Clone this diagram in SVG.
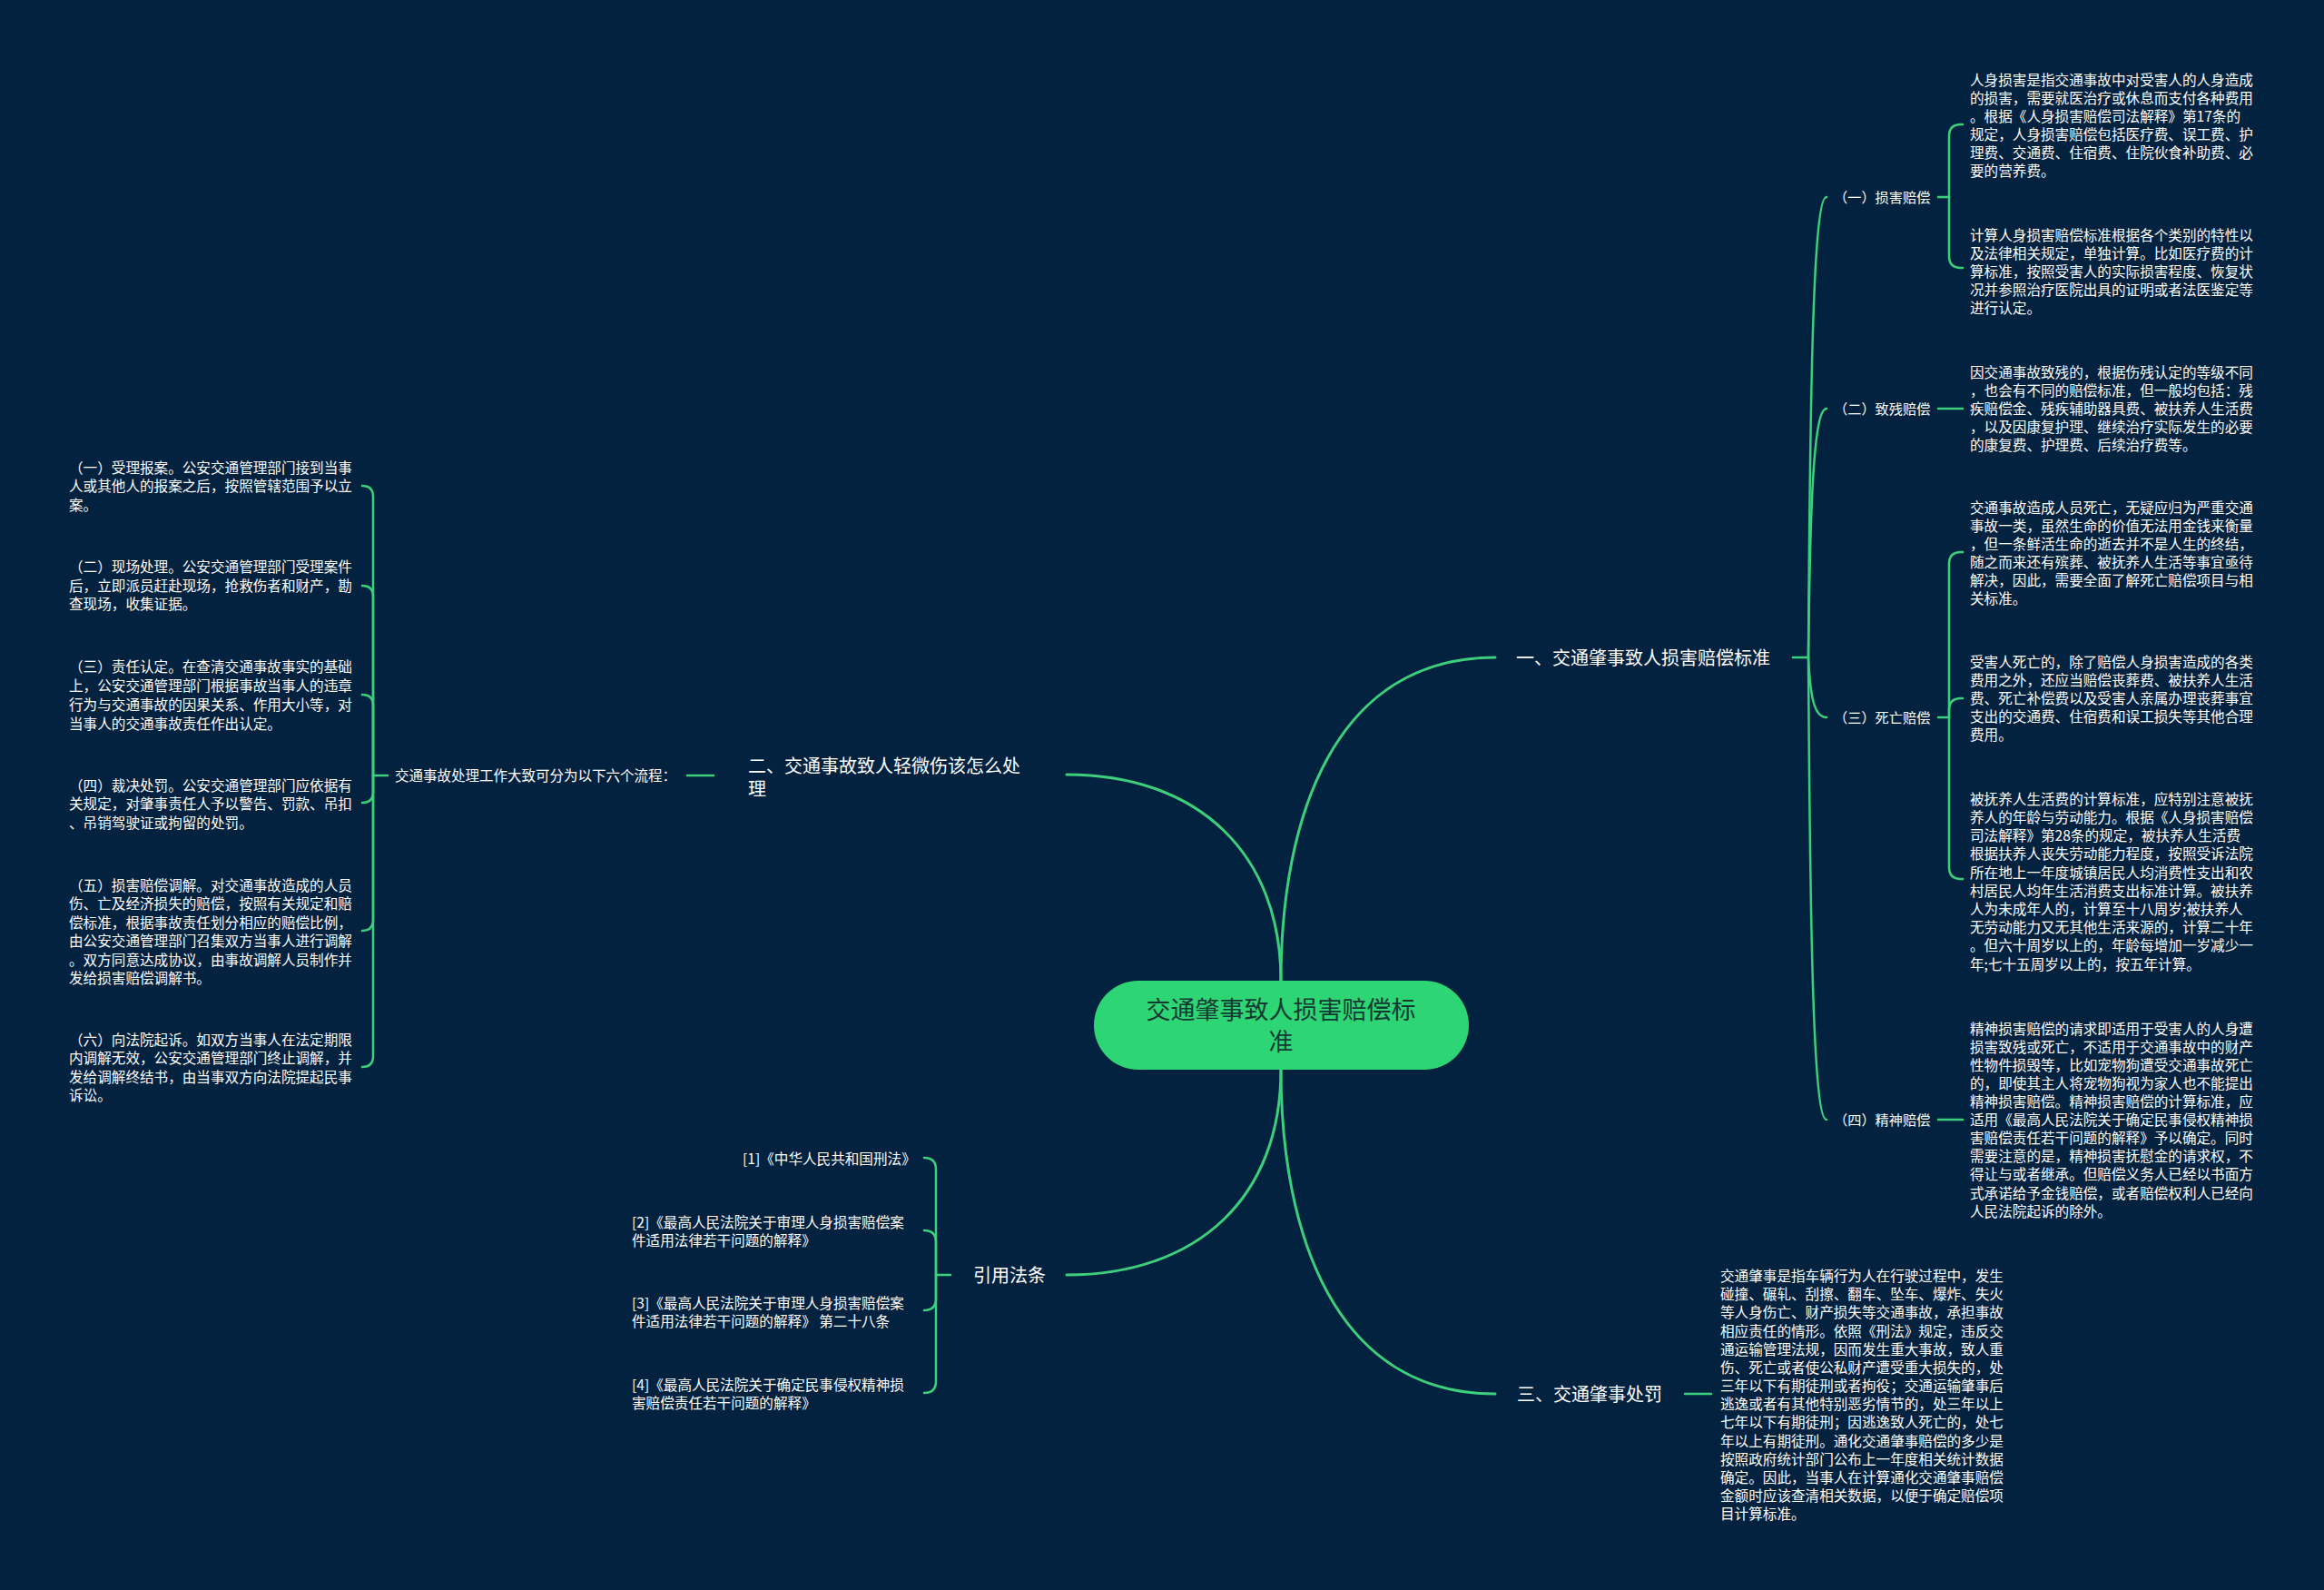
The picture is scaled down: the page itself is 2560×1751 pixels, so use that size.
<svg xmlns="http://www.w3.org/2000/svg" width="2560" height="1751" viewBox="0 0 2560 1751">
<style>
text{font-family:"Noto Sans CJK SC","Noto Sans",sans-serif;fill:#ffffff}
.d{font-size:15.6px}
.s{font-size:15.2px}
.b{font-size:20px}
.r{font-size:27px;fill:#123a33;text-anchor:middle}
.c path{fill:none;stroke:#3ccf7c;stroke-width:2.5;stroke-linecap:round}
.c .m{stroke-width:3}
</style>
<rect x="0" y="0" width="2560" height="1751" fill="#03223f"/>
<g class="c" id="connectors">
<path class="m" d="M1411,1080 C1411,900 1470,724 1647,724"/>
<path class="m" d="M1411,1080 C1411,940 1320,853 1175,853"/>
<path class="m" d="M1411,1178 C1411,1358 1470,1535 1647,1535"/>
<path class="m" d="M1411,1178 C1411,1318 1320,1404 1175,1404"/>
<path d="M1975,724 L1992,724"/>
<path d="M1992,724 C1994,400 1998,217 2012,217"/>
<path d="M1992,724 C1994,549 1998,450 2012,450"/>
<path d="M1992,724 C1994,766 1998,790 2012,790"/>
<path d="M1992,724 C1994,1050 1998,1233 2012,1233"/>
<path d="M2135,217 L2147,217"/>
<path d="M2147,217 L2147,150 Q2147,137 2160,137 L2162,137"/>
<path d="M2147,217 L2147,282 Q2147,295 2160,295 L2162,295"/>
<path d="M2135,450 L2162,450"/>
<path d="M2135,790 L2147,790"/>
<path d="M2147,790 L2147,621 Q2147,608 2160,608 L2162,608"/>
<path d="M2147,790 L2147,782 Q2147,769 2160,769 L2162,769"/>
<path d="M2147,790 L2147,955 Q2147,968 2160,968 L2162,968"/>
<path d="M2135,1233 L2162,1233"/>
<path d="M1856,1535 L1885,1535"/>
<path d="M757,854 L786,854"/>
<path d="M427,854 L411,854"/>
<path d="M411,854 L411,547 Q411,535 399,535"/>
<path d="M411,854 L411,657 Q411,645 399,645"/>
<path d="M411,854 L411,777 Q411,765 399,765"/>
<path d="M411,854 L411,872 Q411,884 399,884"/>
<path d="M411,854 L411,1013 Q411,1025 399,1025"/>
<path d="M411,854 L411,1163 Q411,1175 399,1175"/>
<path d="M1047,1404 L1031,1404"/>
<path d="M1031,1404 L1031,1288 Q1031,1275 1018,1275"/>
<path d="M1031,1404 L1031,1368 Q1031,1355 1018,1355"/>
<path d="M1031,1404 L1031,1430 Q1031,1443 1018,1443"/>
<path d="M1031,1404 L1031,1521 Q1031,1534 1018,1534"/>
</g>
<g id="root">
<rect x="1205" y="1080" width="413" height="98" rx="49" ry="49" fill="#2ed574"/>
<text class="r"><tspan x="1411" y="1122">交通肇事致人损害赔偿标</tspan><tspan x="1411" y="1157">准</tspan></text>
</g>
<g id="branch1"><text class="b" x="1670" y="731.6">一、交通肇事致人损害赔偿标准</text></g>
<g id="branch2"><text class="b"><tspan x="824" y="850.6">二、交通事故致人轻微伤该怎么处</tspan><tspan x="824" y="875.6">理</tspan></text></g>
<g id="branch3"><text class="b" x="1671" y="1542.6">三、交通肇事处罚</text></g>
<g id="branch4"><text class="b" x="1072" y="1411.6">引用法条</text></g>
<g id="sub1"><text class="s" x="2020" y="222.8">（一）损害赔偿</text></g>
<g id="sub2"><text class="s" x="2020" y="455.8">（二）致残赔偿</text></g>
<g id="sub3"><text class="s" x="2020" y="795.8">（三）死亡赔偿</text></g>
<g id="sub4"><text class="s" x="2020" y="1238.8">（四）精神赔偿</text></g>
<g id="desc1"><text class="d"><tspan x="2170" y="94">人身损害是指交通事故中对受害人的人身造成</tspan><tspan x="2170" y="114">的损害，需要就医治疗或休息而支付各种费用</tspan><tspan x="2170" y="134">。根据《人身损害赔偿司法解释》第17条的</tspan><tspan x="2170" y="154">规定，人身损害赔偿包括医疗费、误工费、护</tspan><tspan x="2170" y="174">理费、交通费、住宿费、住院伙食补助费、必</tspan><tspan x="2170" y="194">要的营养费。</tspan></text></g>
<g id="desc2"><text class="d"><tspan x="2170" y="265">计算人身损害赔偿标准根据各个类别的特性以</tspan><tspan x="2170" y="285">及法律相关规定，单独计算。比如医疗费的计</tspan><tspan x="2170" y="305">算标准，按照受害人的实际损害程度、恢复状</tspan><tspan x="2170" y="325">况并参照治疗医院出具的证明或者法医鉴定等</tspan><tspan x="2170" y="345">进行认定。</tspan></text></g>
<g id="desc3"><text class="d"><tspan x="2170" y="416">因交通事故致残的，根据伤残认定的等级不同</tspan><tspan x="2170" y="436">，也会有不同的赔偿标准，但一般均包括：残</tspan><tspan x="2170" y="456">疾赔偿金、残疾辅助器具费、被扶养人生活费</tspan><tspan x="2170" y="476">，以及因康复护理、继续治疗实际发生的必要</tspan><tspan x="2170" y="496">的康复费、护理费、后续治疗费等。</tspan></text></g>
<g id="desc4"><text class="d"><tspan x="2170" y="565">交通事故造成人员死亡，无疑应归为严重交通</tspan><tspan x="2170" y="585">事故一类，虽然生命的价值无法用金钱来衡量</tspan><tspan x="2170" y="605">，但一条鲜活生命的逝去并不是人生的终结，</tspan><tspan x="2170" y="625">随之而来还有殡葬、被抚养人生活等事宜亟待</tspan><tspan x="2170" y="645">解决，因此，需要全面了解死亡赔偿项目与相</tspan><tspan x="2170" y="665">关标准。</tspan></text></g>
<g id="desc5"><text class="d"><tspan x="2170" y="735">受害人死亡的，除了赔偿人身损害造成的各类</tspan><tspan x="2170" y="755">费用之外，还应当赔偿丧葬费、被扶养人生活</tspan><tspan x="2170" y="775">费、死亡补偿费以及受害人亲属办理丧葬事宜</tspan><tspan x="2170" y="795">支出的交通费、住宿费和误工损失等其他合理</tspan><tspan x="2170" y="815">费用。</tspan></text></g>
<g id="desc6"><text class="d"><tspan x="2170" y="886">被抚养人生活费的计算标准，应特别注意被抚</tspan><tspan x="2170" y="906">养人的年龄与劳动能力。根据《人身损害赔偿</tspan><tspan x="2170" y="926">司法解释》第28条的规定，被扶养人生活费</tspan><tspan x="2170" y="946">根据扶养人丧失劳动能力程度，按照受诉法院</tspan><tspan x="2170" y="967">所在地上一年度城镇居民人均消费性支出和农</tspan><tspan x="2170" y="987">村居民人均年生活消费支出标准计算。被扶养</tspan><tspan x="2170" y="1007">人为未成年人的，计算至十八周岁;被扶养人</tspan><tspan x="2170" y="1027">无劳动能力又无其他生活来源的，计算二十年</tspan><tspan x="2170" y="1047">。但六十周岁以上的，年龄每增加一岁减少一</tspan><tspan x="2170" y="1068">年;七十五周岁以上的，按五年计算。</tspan></text></g>
<g id="desc7"><text class="d"><tspan x="2170" y="1139">精神损害赔偿的请求即适用于受害人的人身遭</tspan><tspan x="2170" y="1159">损害致残或死亡，不适用于交通事故中的财产</tspan><tspan x="2170" y="1179">性物件损毁等，比如宠物狗遭受交通事故死亡</tspan><tspan x="2170" y="1199">的，即使其主人将宠物狗视为家人也不能提出</tspan><tspan x="2170" y="1219">精神损害赔偿。精神损害赔偿的计算标准，应</tspan><tspan x="2170" y="1239">适用《最高人民法院关于确定民事侵权精神损</tspan><tspan x="2170" y="1259">害赔偿责任若干问题的解释》予以确定。同时</tspan><tspan x="2170" y="1279">需要注意的是，精神损害抚慰金的请求权，不</tspan><tspan x="2170" y="1299">得让与或者继承。但赔偿义务人已经以书面方</tspan><tspan x="2170" y="1320">式承诺给予金钱赔偿，或者赔偿权利人已经向</tspan><tspan x="2170" y="1340">人民法院起诉的除外。</tspan></text></g>
<g id="desc8"><text class="d"><tspan x="1895" y="1411">交通肇事是指车辆行为人在行驶过程中，发生</tspan><tspan x="1895" y="1431">碰撞、碾轧、刮擦、翻车、坠车、爆炸、失火</tspan><tspan x="1895" y="1451">等人身伤亡、财产损失等交通事故，承担事故</tspan><tspan x="1895" y="1472">相应责任的情形。依照《刑法》规定，违反交</tspan><tspan x="1895" y="1492">通运输管理法规，因而发生重大事故，致人重</tspan><tspan x="1895" y="1512">伤、死亡或者使公私财产遭受重大损失的，处</tspan><tspan x="1895" y="1532">三年以下有期徒刑或者拘役；交通运输肇事后</tspan><tspan x="1895" y="1552">逃逸或者有其他特别恶劣情节的，处三年以上</tspan><tspan x="1895" y="1572">七年以下有期徒刑；因逃逸致人死亡的，处七</tspan><tspan x="1895" y="1593">年以上有期徒刑。通化交通肇事赔偿的多少是</tspan><tspan x="1895" y="1613">按照政府统计部门公布上一年度相关统计数据</tspan><tspan x="1895" y="1633">确定。因此，当事人在计算通化交通肇事赔偿</tspan><tspan x="1895" y="1653">金额时应该查清相关数据，以便于确定赔偿项</tspan><tspan x="1895" y="1673">目计算标准。</tspan></text></g>
<g id="flow"><text x="435" y="860" style="font-size:15.5px">交通事故处理工作大致可分为以下六个流程：</text></g>
<g id="step1"><text class="d"><tspan x="76" y="521">（一）受理报案。公安交通管理部门接到当事</tspan><tspan x="76" y="541">人或其他人的报案之后，按照管辖范围予以立</tspan><tspan x="76" y="562">案。</tspan></text></g>
<g id="step2"><text class="d"><tspan x="76" y="630">（二）现场处理。公安交通管理部门受理案件</tspan><tspan x="76" y="651">后，立即派员赶赴现场，抢救伤者和财产，勘</tspan><tspan x="76" y="671">查现场，收集证据。</tspan></text></g>
<g id="step3"><text class="d"><tspan x="76" y="740">（三）责任认定。在查清交通事故事实的基础</tspan><tspan x="76" y="761">上，公安交通管理部门根据事故当事人的违章</tspan><tspan x="76" y="782">行为与交通事故的因果关系、作用大小等，对</tspan><tspan x="76" y="803">当事人的交通事故责任作出认定。</tspan></text></g>
<g id="step4"><text class="d"><tspan x="76" y="871">（四）裁决处罚。公安交通管理部门应依据有</tspan><tspan x="76" y="891">关规定，对肇事责任人予以警告、罚款、吊扣</tspan><tspan x="76" y="912">、吊销驾驶证或拘留的处罚。</tspan></text></g>
<g id="step5"><text class="d"><tspan x="76" y="981">（五）损害赔偿调解。对交通事故造成的人员</tspan><tspan x="76" y="1001">伤、亡及经济损失的赔偿，按照有关规定和赔</tspan><tspan x="76" y="1022">偿标准，根据事故责任划分相应的赔偿比例，</tspan><tspan x="76" y="1042">由公安交通管理部门召集双方当事人进行调解</tspan><tspan x="76" y="1063">。双方同意达成协议，由事故调解人员制作并</tspan><tspan x="76" y="1083">发给损害赔偿调解书。</tspan></text></g>
<g id="step6"><text class="d"><tspan x="76" y="1151">（六）向法院起诉。如双方当事人在法定期限</tspan><tspan x="76" y="1171">内调解无效，公安交通管理部门终止调解，并</tspan><tspan x="76" y="1192">发给调解终结书，由当事双方向法院提起民事</tspan><tspan x="76" y="1212">诉讼。</tspan></text></g>
<g id="ref1"><text class="d" x="818" y="1282">[1]《中华人民共和国刑法》</text></g>
<g id="ref2"><text class="d"><tspan x="696" y="1352">[2]《最高人民法院关于审理人身损害赔偿案</tspan><tspan x="696" y="1372">件适用法律若干问题的解释》</tspan></text></g>
<g id="ref3"><text class="d"><tspan x="696" y="1441">[3]《最高人民法院关于审理人身损害赔偿案</tspan><tspan x="696" y="1461">件适用法律若干问题的解释》 第二十八条</tspan></text></g>
<g id="ref4"><text class="d"><tspan x="696" y="1531">[4]《最高人民法院关于确定民事侵权精神损</tspan><tspan x="696" y="1551">害赔偿责任若干问题的解释》</tspan></text></g>
</svg>
